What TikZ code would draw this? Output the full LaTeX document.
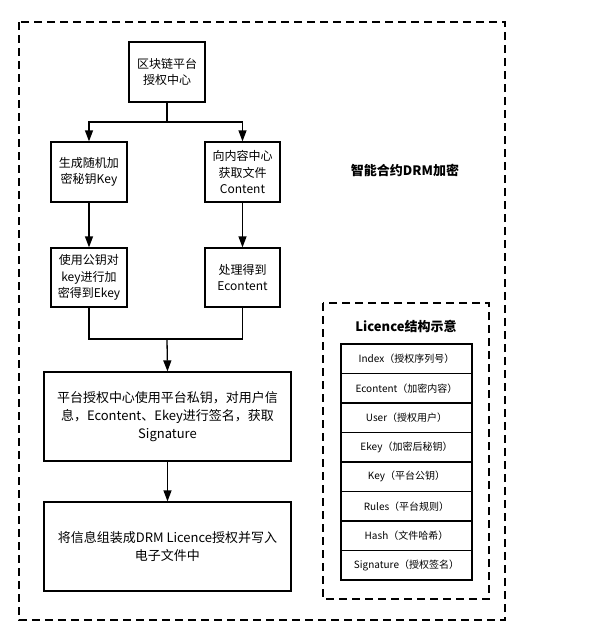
\documentclass[tikz,border=0pt]{standalone}
\usepackage{fontspec}
\setmainfont{Noto Sans CJK SC}
\usetikzlibrary{arrows.meta}

\tikzset{
  box/.style={draw, line width=1.3pt, align=center, inner sep=2pt,
    minimum width=76pt, minimum height=60pt,
    font=\fontsize{12}{16.5}\selectfont},
  bigbox/.style={box, minimum width=247pt, minimum height=89pt,
    font=\fontsize{13}{18}\selectfont},
  cell/.style={draw, line width=1.3pt, minimum width=131pt,
    minimum height=29.5pt, inner sep=0pt, font=\fontsize{10}{12}\selectfont},
  frame/.style={line width=1.3pt, dash pattern=on 8pt off 5pt},
  flow/.style={line width=1.3pt, -{Triangle[length=11pt,width=8pt]}},
  plain/.style={line width=1.3pt}
}

\begin{document}
\begin{tikzpicture}[x=1pt,y=-1pt]
    \useasboundingbox (0,0) rectangle (593,641);

    % Outer dashed frame for the whole contract
    \draw[frame] (19,22) rectangle (505,620);
    \node[font=\fontsize{13}{16}\selectfont\bfseries] (title) at (405,170) {智能合约DRM加密};

    % Top box: the authorisation centre
    \node[box] (auth) at (167,72) {区块链平台\\授权中心};

    % The two branches below it
    \node[box] (genkey) at (89,172) {生成随机加\\密秘钥Key};
    \node[box, minimum width=75pt] (getcont) at (242.5,172) {向内容中心\\获取文件\\Content};
    \node[box, minimum height=59pt] (enckey) at (89,277.5) {使用公钥对\\key进行加\\密得到Ekey};
    \node[box, minimum width=75pt, minimum height=59pt] (enccont) at (242.5,277.5) {处理得到\\Econtent};

    % Signing and packing boxes
    \node[bigbox] (sign) at (167.5,416.5) {平台授权中心使用平台私钥，对用户信\\息，Econtent、Ekey进行签名，获取\\Signature};
    \node[bigbox] (pack) at (167.5,546.5) {将信息组装成DRM Licence授权并写入\\电子文件中};

    % Fork from the top box
    \coordinate (fork) at (167,122);
    \draw[plain] (auth.south) -- (fork);
    \draw[flow] (fork) -| (genkey.north);
    \draw[flow] (fork) -| (getcont.north);

    % Straight arrows down each branch
    \draw[flow] (genkey) -- (enckey);
    \draw[flow] (getcont) -- (enccont);

    % Merge into the signing box
    \coordinate (merge) at (167,339);
    \draw[plain] (enckey.south) |- (merge);
    \draw[plain] (enccont.south) |- (merge);
    \draw[flow] (merge) -- (sign.north);
    \draw[flow] (sign) -- (pack);

    % Inner dashed frame with the licence layout
    \draw[frame] (323,303) rectangle (489,599);
    \node[font=\fontsize{13}{16}\selectfont\bfseries] (lic) at (406,326) {Licence结构示意};

    % Table rows of the licence
    \foreach \txt [count=\i from 0] in {Index（授权序列号）, Econtent（加密内容）,
        User（授权用户）, Ekey（加密后秘钥）, Key（平台公钥）, Rules（平台规则）,
        Hash（文件哈希）, Signature（授权签名）} {
      \node[cell] (row\i) at (406.5,358.75+29.5*\i) {\txt};
    }

  \end{tikzpicture}
\end{document}
